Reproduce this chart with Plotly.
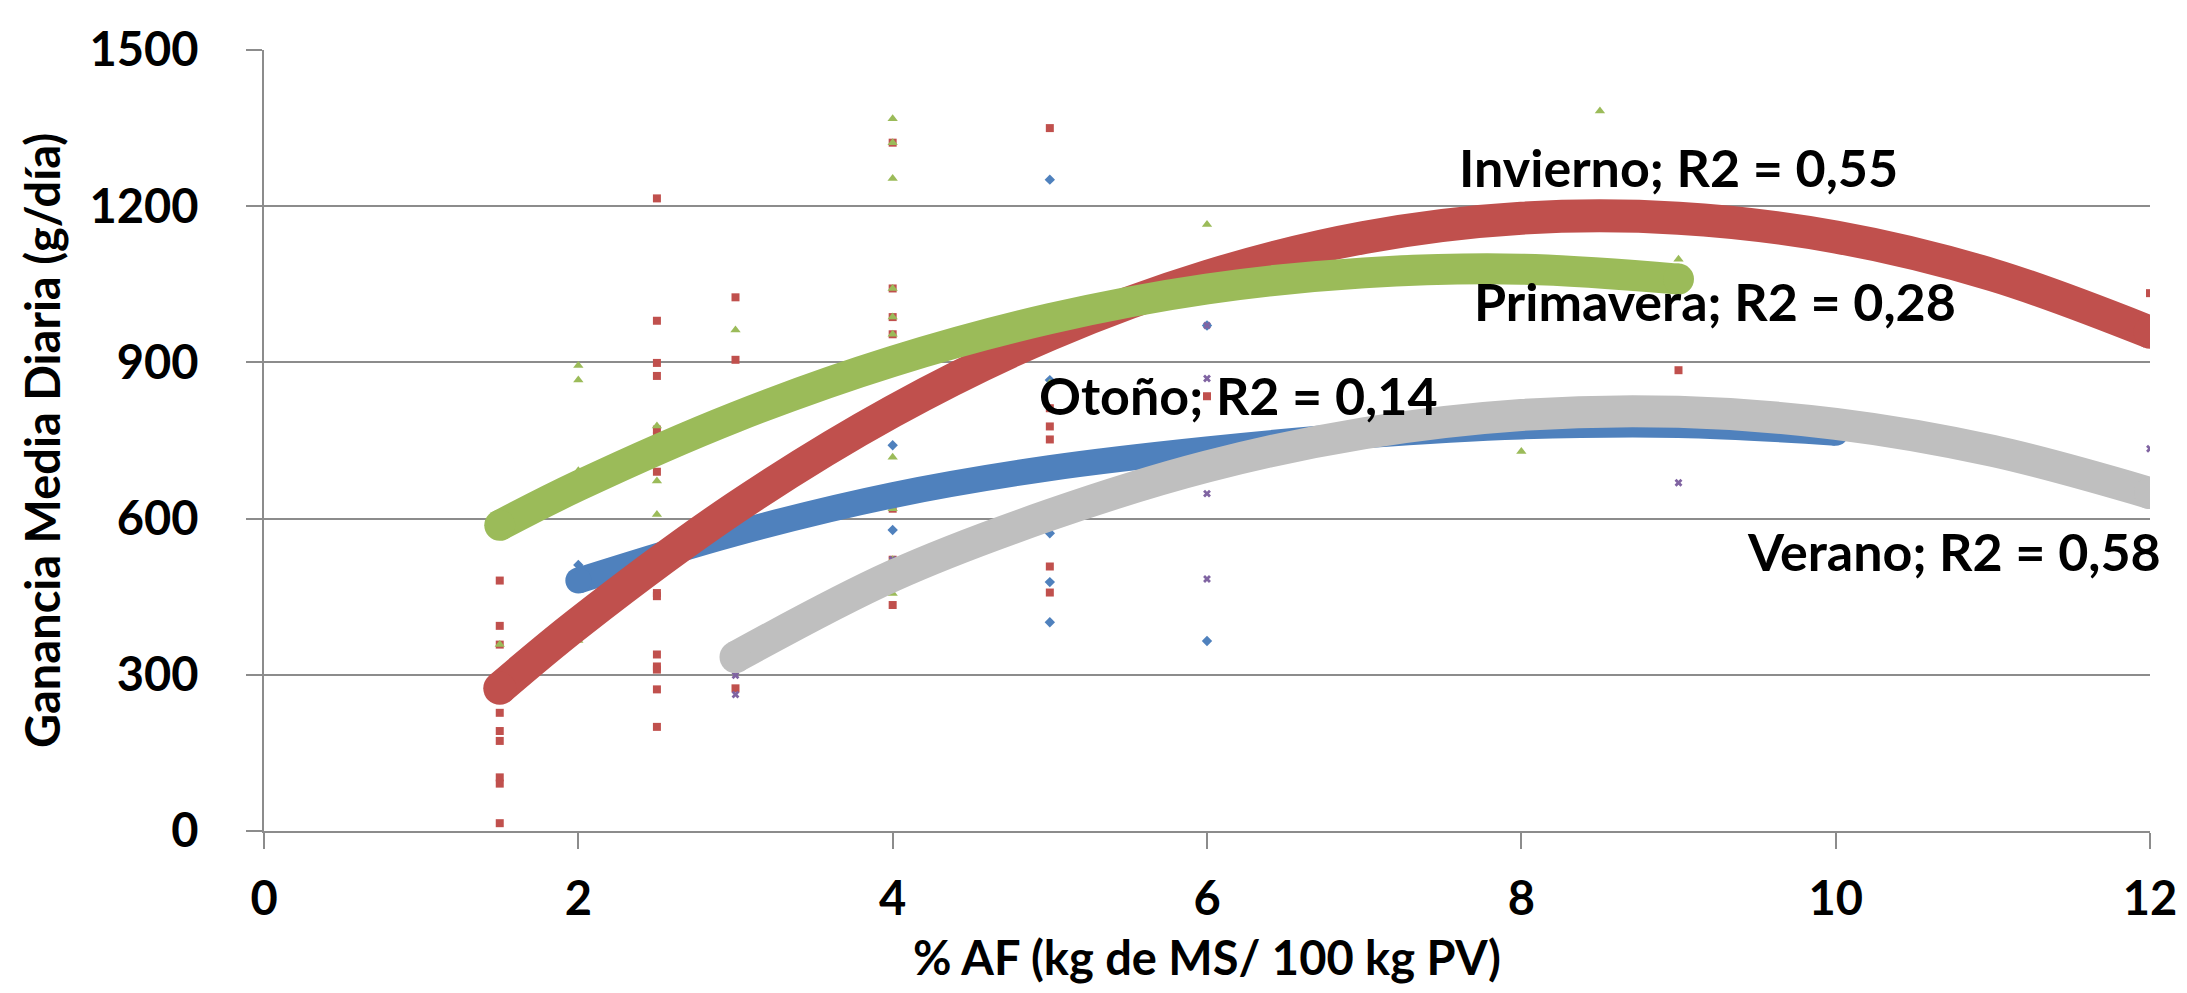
import plotly.graph_objects as go

# ---------------- data ----------------
# Otoño (blue diamonds)
oto_x = [2, 4, 4, 5, 5, 5, 5, 5, 6, 6]
oto_y = [511, 741, 578, 1251, 866, 572, 478, 401, 971, 365]

# Invierno (red squares)
inv_x = [1.5, 1.5, 1.5, 1.5, 1.5, 1.5, 1.5, 1.5, 1.5,
         2.5, 2.5, 2.5, 2.5, 2.5, 2.5, 2.5, 2.5, 2.5, 2.5, 2.5, 2.5, 2.5, 2.5,
         3, 3, 3,
         4, 4, 4, 4, 4, 4, 4,
         4.5,
         5, 5, 5, 5, 5, 5,
         6, 9, 12]
inv_y = [481, 394, 358, 227, 192, 173, 103, 91, 15,
         1215, 980, 899, 874, 771, 758, 690, 457, 451, 339, 316, 310, 272, 200,
         1025, 905, 274,
         1322, 1042, 987, 954, 619, 521, 434,
         904,
         1350, 812, 777, 752, 508, 458,
         835, 885, 1033]

# Primavera (green triangles)
pri_x = [1.5, 2, 2, 2, 2, 2.5, 2.5, 2.5, 3,
         4, 4, 4, 4, 4, 4, 4, 4, 4, 4,
         5, 6, 8, 8.5, 9]
pri_y = [358, 894, 866, 692, 366, 778, 672, 608, 962,
         1368, 1322, 1253, 1042, 987, 954, 718, 619, 521, 456,
         860, 1165, 729, 1383, 1098]

# Verano (purple crosses)
ver_x = [3, 3, 4, 6, 6, 6, 6, 9, 12, 12]
ver_y = [299, 262, 521, 971, 869, 648, 484, 669, 734, 649]

# Trend lines
oto_tx = [2, 3, 4, 5, 6, 7, 8, 9, 10]
oto_ty = [481, 572, 645, 697, 733, 760, 777, 780, 765]
inv_tx = [1.5, 2, 3, 4, 5, 6, 7, 8, 9, 10, 11, 12]
inv_ty = [274, 399, 621, 806, 954, 1065, 1140, 1177, 1177, 1141, 1068, 958]
pri_tx = [1.5, 2, 3, 4, 5, 6, 7, 8, 9]
pri_ty = [587, 663, 795, 902, 984, 1041, 1072, 1079, 1060]
ver_tx = [3, 4, 5, 6, 7, 8, 9, 10, 11, 12]
ver_ty = [334, 490, 607, 700, 764, 799, 805, 782, 730, 649]

labels = ["Otoño; R2 = 0,14", "Invierno; R2 = 0,55",
          "Primavera; R2 = 0,28", "Verano; R2 = 0,58"]
label_x = [6.2, 9.0, 9.23, 10.75]
label_y = [838, 1276, 1017, 538]

x_ticks = [0, 2, 4, 6, 8, 10, 12]
y_ticks = [0, 300, 600, 900, 1200, 1500]

# ---------------- styling ----------------
BLUE = "#4F81BD"
RED = "#C0504D"
GREEN = "#9BBB59"
PURPLE = "#8064A2"
GREY_LINE = "#BFBFBF"
GRID = "#8C8C8C"
FONT = "Lato"

fig = go.Figure()

# markers first (trend lines drawn above them)
fig.add_trace(go.Scatter(x=oto_x, y=oto_y, mode="markers",
                         marker=dict(symbol="diamond", size=8, color=BLUE)))
fig.add_trace(go.Scatter(x=inv_x, y=inv_y, mode="markers",
                         marker=dict(symbol="square", size=8, color=RED)))
fig.add_trace(go.Scatter(x=pri_x, y=pri_y, mode="markers",
                         marker=dict(symbol="triangle-up", size=9, color=GREEN)))
fig.add_trace(go.Scatter(x=ver_x, y=ver_y, mode="markers",
                         marker=dict(symbol="x", size=7, color=PURPLE)))


def add_trend(xs, ys, color, width):
    fig.add_trace(go.Scatter(x=xs, y=ys, mode="lines",
                             line=dict(color=color, width=width, shape="spline")))
    # round end caps
    fig.add_trace(go.Scatter(x=[xs[0], xs[-1]], y=[ys[0], ys[-1]], mode="markers",
                             marker=dict(size=width, color=color, opacity=1,
                                         line=dict(width=0))))


add_trend(oto_tx, oto_ty, BLUE, 26)
add_trend(inv_tx, inv_ty, RED, 33)
add_trend(pri_tx, pri_ty, GREEN, 31)
add_trend(ver_tx, ver_ty, GREY_LINE, 32)

for t, lx, ly in zip(labels, label_x, label_y):
    fig.add_annotation(x=lx, y=ly, text=t, showarrow=False,
                       xanchor="center", yanchor="middle",
                       font=dict(family=FONT, size=52, color="black", weight="bold"))

fig.update_layout(
    width=2187, height=993,
    margin=dict(l=256, r=45, t=33, b=170),
    paper_bgcolor="white", plot_bgcolor="white",
    showlegend=False,
    font=dict(family=FONT, size=47, color="black", weight="bold"),
)
fig.update_xaxes(
    range=[0, 12], tickvals=x_ticks, ticktext=[str(v) for v in x_ticks],
    showgrid=False, zeroline=False,
    showline=True, linecolor=GRID, linewidth=2,
    ticks="outside", ticklen=16, tickwidth=2, tickcolor=GRID,
    ticklabelstandoff=10,
    tickfont=dict(family=FONT, size=47, color="black", weight="bold"),
    title=dict(text="% AF (kg de MS/ 100 kg PV)", standoff=18,
               font=dict(family=FONT, size=47, color="black", weight="bold")),
)
fig.update_yaxes(
    range=[0, 1500], tickvals=y_ticks, ticktext=[str(v) for v in y_ticks],
    showgrid=True, gridcolor=GRID, gridwidth=2, zeroline=False,
    showline=True, linecolor=GRID, linewidth=2,
    ticks="outside", ticklen=16, tickwidth=2, tickcolor=GRID,
    ticklabelstandoff=38,
    tickfont=dict(family=FONT, size=47, color="black", weight="bold"),
    title=dict(text="Ganancia Media Diaria (g/día)", standoff=14,
               font=dict(family=FONT, size=47, color="black", weight="bold")),
)

fig.write_html("out.html")
